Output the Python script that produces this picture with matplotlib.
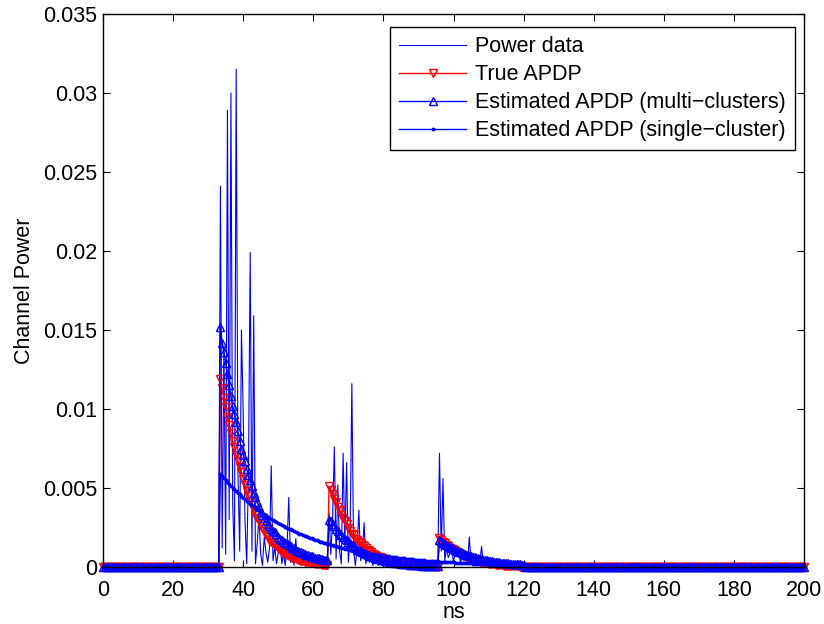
import matplotlib
matplotlib.use("Agg")
import matplotlib.pyplot as plt
import numpy as np

plt.rcParams['font.family'] = ['Liberation Sans', 'DejaVu Sans']

# time grid (ns), 0.5 ns steps
dt = 0.5
t = np.arange(0, 200 + dt, dt)

# cluster start times (ns)
c1 = 33.5
c2 = 64.5
c3 = 96.0

# power data, per cluster
power_c1 = [.0241, .0012, .0140, .0008, .0289, .0030, .0300, .0040, .0004, .0315,
            .0060, .0010, .0150, .0098, .0030, .0002, .0060, .0199, .0010, .0159,
            .0002, .0015, .0032, .0008, .0001, .0019, .0009, .0003, .0012, .0064,
            .0004, .0013, .0002, .0009, .0016, .0002, .0008, .0001, .0012, .0044,
            .0003, .0011, .0001, .0018, .0003, .0007, .0001, .0009, .0002, .0005,
            .0001, .0006, .0003, .0001, .0004, .0002, .0003, .0001, .0002, .0001,
            .0002, .0001]
power_c2 = [.0034, .0008, .0030, .0076, .0005, .0052, .0010, .0002, .0072, .0015,
            .0066, .0003, .0020, .0116, .0010, .0001, .0012, .0036, .0004, .0009,
            .0028, .0002, .0008, .0003, .0006, .0001, .0007, .0004, .0001, .0005,
            .0008, .0002, .0001, .0004, .0006, .0001, .0003, .0000, .0004, .0002,
            .0003, .0001, .0002, .0003, .0001, .0002, .0001, .0002, .0001, .0001,
            .0002, .0001, .0001, .0002, .0001, .0001, .0001, .0002, .0001, .0001,
            .0001, .0001, .0001]
power_c3 = [.0072, .0010, .0056, .0004, .0012, .0006, .0009, .0011, .0003, .0010,
            .0007, .0011, .0002, .0009, .0004, .0007, .0002, .0019, .0003, .0006,
            .0004, .0002, .0005, .0003, .0013, .0002, .0004, .0001, .0003, .0002,
            .0001, .0003, .0001, .0002, .0001, .0001, .0002, .0001, .0001, .0001,
            .0000, .0001, .0000, .0001, .0000, .0000, .0001, .0000, .0000]

# true APDP
true_c1 = [.0119, .0113, .0107, .0101, .0095, .0090, .0085, .0080, .0076, .0071,
           .0067, .0063, .0060, .0056, .0052, .0048, .0045, .0042, .0039, .0036,
           .0033, .0031, .0029, .0027, .0025, .0023, .0020, .0019, .0017, .0016,
           .0015, .0014, .0013, .0012, .0011, .00098, .00090, .00083, .00077, .00071,
           .00065, .00060, .00056, .00051, .00047, .00044, .00040, .00037, .00034, .00031,
           .00029, .00027, .00025, .00023, .00021, .00019, .00017, .00016, .00015, .00013,
           .00012, .00011]
true_c2 = [.0051, .0049, .0046, .0043, .0041, .0038, .0036, .0033, .0031, .0029,
           .0027, .0025, .0023, .0021, .0020, .0018, .0017, .0016, .0015, .0014,
           .0013, .0012, .0011, .0010, .00092, .00085, .00078, .00072, .00066, .00061,
           .00056, .00051, .00047, .00043, .00039, .00036, .00033, .00030, .00027, .00025,
           .00023, .00021, .00019, .00017, .00016, .00014, .00013, .00012, .00011, .00010,
           .00009, .00008, .00008, .00007, .00006, .00006, .00005, .00005, .00004, .00004,
           .00004, .00003, .00003]
true_c3 = [.00184, .00172, .00160, .00150, .00140, .00131, .00122, .00114, .00106, .00099,
           .00092, .00086, .00080, .00074, .00069, .00064, .00059, .00055, .00051, .00047,
           .00043, .00040, .00037, .00034, .00031, .00028, .00026, .00024, .00022, .00020,
           .00018, .00016, .00015, .00014, .00012, .00011, .00010, .00009, .00008, .00007,
           .00006, .00006, .00005, .00005, .00004, .00004, .00003, .00003, .00003]

# estimated APDP, multi-clusters
multi_c1 = [.0152, .0142, .0136, .0129, .0122, .0115, .0108, .0102, .0097, .0092,
            .0086, .0080, .0075, .0071, .0067, .0062, .0058, .0055, .0051, .0047,
            .0044, .0041, .0038, .0035, .0033, .0031, .0029, .0027, .0026, .0024,
            .0023, .0022, .0021, .0019, .0018, .0017, .0016, .0015, .0015, .0014,
            .0013, .0012, .0012, .0011, .0010, .00098, .00093, .00088, .00083, .00079,
            .00075, .00071, .00067, .00064, .00060, .00057, .00054, .00051, .00049, .00046,
            .00044, .00042]
multi_c2 = [.0030, .0029, .0027, .0026, .0024, .0023, .0021, .0020, .0019, .0018,
            .0017, .0016, .0015, .0014, .0013, .0012, .0011, .0011, .0010, .00094,
            .00088, .00082, .00077, .00072, .00067, .00063, .00059, .00055, .00051, .00048,
            .00045, .00042, .00039, .00037, .00034, .00032, .00030, .00028, .00026, .00024,
            .00023, .00021, .00020, .00019, .00017, .00016, .00015, .00014, .00013, .00012,
            .00012, .00011, .00010, .00009, .00009, .00008, .00008, .00007, .00007, .00006,
            .00006, .00005, .00005]
multi_c3 = [.00170, .00162, .00154, .00146, .00139, .00132, .00125, .00119, .00113, .00107,
            .00102, .00097, .00092, .00087, .00083, .00079, .00075, .00071, .00067, .00064,
            .00061, .00058, .00055, .00052, .00049, .00047, .00045, .00042, .00040, .00038,
            .00036, .00034, .00033, .00031, .00029, .00028, .00027, .00025, .00024, .00023,
            .00022, .00021, .00020, .00019, .00018, .00017, .00016, .00015, .00014]

# estimated APDP, single-cluster (from 33.5 ns)
single_vals = [.00590, .00577, .00564, .00551, .00539, .00527, .00515, .00503, .00492, .00481,
               .00470, .00459, .00449, .00439, .00429, .00419, .00410, .00401, .00392, .00383,
               .00375, .00366, .00358, .00350, .00342, .00334, .00327, .00319, .00312, .00305,
               .00298, .00291, .00285, .00279, .00272, .00266, .00260, .00254, .00249, .00243,
               .00238, .00232, .00227, .00222, .00217, .00212, .00207, .00203, .00198, .00194,
               .00189, .00185, .00181, .00177, .00173, .00169, .00165, .00161, .00158, .00154,
               .00151, .00147, .00144, .00141, .00138, .00135, .00132, .00129, .00126, .00123,
               .00120, .00117, .00115, .00112, .00110, .00107, .00105, .00102, .00100, .00098,
               .00096, .00094, .00092, .00089, .00087, .00085, .00084, .00082, .00080, .00078,
               .00076, .00075, .00073, .00071, .00070, .00068, .00067, .00065, .00064, .00062,
               .00061, .00059, .00058, .00057, .00056, .00054, .00053, .00052, .00051, .00050,
               .00048, .00047, .00046, .00045, .00044, .00043, .00042, .00041, .00040, .00039,
               .00039, .00038, .00037, .00036, .00035, .00034, .00034, .00033, .00032, .00031,
               .00031, .00030, .00029, .00029, .00028, .00027, .00027, .00026, .00026, .00025,
               .00025, .00024, .00023, .00023, .00022, .00022, .00021, .00021, .00020, .00020,
               .00020, .00019, .00019, .00018, .00018, .00017, .00017, .00017, .00016, .00016,
               .00016, .00015, .00015, .00014, .00014, .00014, .00014, .00013, .00013, .00013,
               .00012, .00012, .00012, .00011, .00011, .00011, .00011, .00010, .00010, .00010,
               .00010, .00010, .00009, .00009, .00009, .00009, .00009, .00008, .00008, .00008,
               .00008, .00008, .00008, .00007, .00007, .00007, .00007, .00007, .00007, .00006,
               .00006, .00006, .00006, .00006, .00006, .00005, .00005, .00005, .00005, .00005,
               .00005, .00005, .00005, .00005, .00004, .00004, .00004, .00004, .00004, .00004,
               .00004, .00004, .00004, .00003, .00003, .00003, .00003, .00003, .00003, .00003,
               .00003, .00003, .00003, .00003, .00003, .00003, .00003, .00003, .00003]


def build(segments):
    y = np.zeros(len(t))
    for start, vals in segments:
        i0 = int(round(start / dt))
        n = min(len(vals), len(t) - i0)
        y[i0:i0 + n] = vals[:n]
    return y


power = build([(c1, power_c1), (c2, power_c2), (c3, power_c3)])
true_apdp = build([(c1, true_c1), (c2, true_c2), (c3, true_c3)])
multi = build([(c1, multi_c1), (c2, multi_c2), (c3, multi_c3)])
single = build([(c1, single_vals)])

fig = plt.figure(figsize=(8.24, 6.24), dpi=100)
ax = fig.add_axes([103 / 824, 57 / 624, 701 / 824, 553 / 624])

ax.plot(t, power, color='blue', lw=0.8, label='Power data', clip_on=False)
ax.plot(t, true_apdp, color='red', lw=1.0, marker='v', ms=6, mfc='none', mew=1.0,
        label='True APDP', clip_on=False)
ax.plot(t, multi, color='blue', lw=1.0, marker='^', ms=6, mfc='none', mew=1.0,
        label='Estimated APDP (multi\u2212clusters)', clip_on=False)
ax.plot(t, single, color='blue', lw=1.0, marker='.', ms=3.5,
        label='Estimated APDP (single\u2212cluster)', clip_on=False)

ax.set_xlim(0, 200)
ax.set_ylim(0, 0.035)
ax.set_xticks(np.arange(0, 201, 20))
ax.set_yticks([0, 0.005, 0.01, 0.015, 0.02, 0.025, 0.03, 0.035])
ax.set_yticklabels(['0', '0.005', '0.01', '0.015', '0.02', '0.025', '0.03', '0.035'])
ax.tick_params(direction='in', top=True, right=True, length=5, width=0.8,
               labelsize=15.5)
ax.tick_params(axis='x', pad=9)
ax.tick_params(axis='y', pad=4)
for s in ax.spines.values():
    s.set_linewidth(1.0)

ax.set_xlabel('ns', fontsize=15.5, labelpad=1)
ax.set_ylabel('Channel Power', fontsize=15.5, labelpad=6)

leg = ax.legend(loc='upper right', bbox_to_anchor=(795 / 824, 1 - 27 / 624),
                bbox_transform=fig.transFigure, borderaxespad=0, fontsize=15.5,
                fancybox=False, framealpha=1, edgecolor='black',
                handlelength=3.1, handletextpad=0.42, labelspacing=0.33,
                borderpad=0.42)
leg.get_frame().set_linewidth(1.0)

plt.savefig('out.png', dpi=100)
